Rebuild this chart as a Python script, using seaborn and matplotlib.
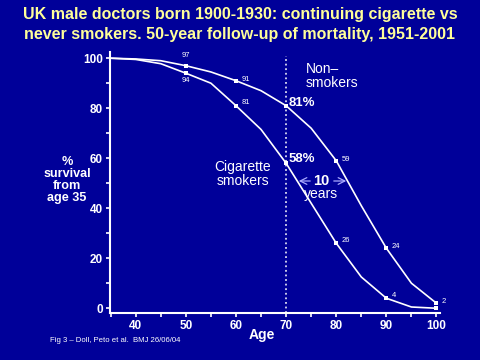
import matplotlib
matplotlib.use("Agg")
import matplotlib.pyplot as plt
import seaborn as sns
import pandas as pd

ages = [35, 40, 45, 50, 55, 60, 65, 70, 75, 80, 85, 90, 95, 100]
non_smokers = [100, 99.7, 99, 97, 94.5, 91, 87, 81, 72, 59, 41, 24, 10, 2]
smokers = [100, 99.5, 97.8, 94, 90, 81, 71.5, 58, 42, 26, 12.5, 4, 0.5, 0]
marker_ages = [50, 60, 70, 80, 90, 100]
ns_labels = {50: "97", 60: "91", 80: "59", 90: "24", 100: "2"}
sm_labels = {50: "94", 60: "81", 80: "26", 90: "4"}
xticks = [40, 50, 60, 70, 80, 90, 100]
yticks = [0, 20, 40, 60, 80, 100]

BG = "#000099"
W, H = 480, 360

sns.set_theme(style="white")
plt.rcParams['font.family'] = ['Liberation Sans', 'DejaVu Sans']

df = pd.DataFrame({
    "age": ages * 2,
    "survival": non_smokers + smokers,
    "group": ["Non-smokers"] * len(ages) + ["Cigarette smokers"] * len(ages),
})
dm = df[df["age"].isin(marker_ages)]

fig = plt.figure(figsize=(4.8, 3.6), dpi=100, facecolor=BG)
ax = fig.add_axes([110 / W, 1 - 313 / H, 330 / W, 261.3 / H])
ax.set_facecolor(BG)

sns.lineplot(data=df, x="age", y="survival", units="group", estimator=None,
             color="white", linewidth=1.2, ax=ax, legend=False)
sns.scatterplot(data=dm, x="age", y="survival", color="white", marker="s",
                s=10, edgecolor="white", linewidth=0, ax=ax, legend=False, zorder=5)

ax.vlines(70, -1.9, 101, colors="white", linestyles=(0, (1.2, 1.8)), linewidth=1.1)

ax.set_xlim(34.87, 100.7)
ax.set_ylim(-1.9, 102.6)
ax.set_xticks(xticks)
ax.set_xticks(list(range(35, 101, 5)), minor=True)
ax.set_yticks(yticks)
ax.set_yticks(list(range(10, 100, 20)), minor=True)
ax.set_xticklabels([str(t) for t in xticks], color="white", fontsize=8.5, fontweight="bold")
ax.set_yticklabels([str(t) for t in yticks], color="white", fontsize=8.5, fontweight="bold")
ax.tick_params(axis="both", which="both", colors="white", direction="out", length=3,
               width=1.2, pad=2, bottom=True, left=True)
for s in ["top", "right"]:
    ax.spines[s].set_visible(False)
for s in ["left", "bottom"]:
    ax.spines[s].set_color("white")
    ax.spines[s].set_linewidth(1.5)
ax.set_xlabel("")
ax.set_ylabel("")

# value labels
for a, lab in ns_labels.items():
    v = non_smokers[ages.index(a)]
    if a == 50:
        ax.annotate(lab, (a, v), xytext=(0, 5), textcoords="offset points",
                    ha="center", va="bottom", color="white", fontsize=5.5)
    else:
        ax.annotate(lab, (a, v), xytext=(4, 1), textcoords="offset points",
                    ha="left", va="center", color="white", fontsize=5.5)
for a, lab in sm_labels.items():
    v = smokers[ages.index(a)]
    if a == 50:
        ax.annotate(lab, (a, v), xytext=(0, -3), textcoords="offset points",
                    ha="center", va="top", color="white", fontsize=5.5)
    else:
        ax.annotate(lab, (a, v), xytext=(4, 2), textcoords="offset points",
                    ha="left", va="center", color="white", fontsize=5.5)

ax.annotate("81%", (70, non_smokers[ages.index(70)]), xytext=(2, 2), textcoords="offset points",
            ha="left", va="center", color="white", fontsize=9.5, fontweight="bold")
ax.annotate("58%", (70, smokers[ages.index(70)]), xytext=(2, 3), textcoords="offset points",
            ha="left", va="center", color="white", fontsize=9.5, fontweight="bold")

def ft(x, y, s, **kw):
    fig.text(x / W, 1 - y / H, s, **kw)

ft(240, 14, "UK male doctors born 1900-1930: continuing cigarette vs",
   ha="center", va="center", color="#FFFF99", fontsize=11.5, fontweight="bold")
ft(240, 34, "never smokers. 50-year follow-up of mortality, 1951-2001",
   ha="center", va="center", color="#FFFF99", fontsize=11.5, fontweight="bold")

ft(306, 76, "Non\u2013\nsmokers", ha="left", va="center", color="white",
   fontsize=10, linespacing=1.0)
ft(243, 174, "Cigarette\nsmokers", ha="center", va="center", color="white",
   fontsize=10, linespacing=1.0)
ft(321, 181, "10", ha="center", va="center", color="white", fontsize=10.5, fontweight="bold")
ft(321, 194, "years", ha="center", va="center", color="white", fontsize=10)
ax.annotate("", xy=(296 / W, 1 - 181 / H), xytext=(313 / W, 1 - 181 / H),
            xycoords="figure fraction", textcoords="figure fraction",
            arrowprops=dict(arrowstyle="->", color="#AAAAFF", lw=0.9))
ax.annotate("", xy=(349 / W, 1 - 181 / H), xytext=(331 / W, 1 - 181 / H),
            xycoords="figure fraction", textcoords="figure fraction",
            arrowprops=dict(arrowstyle="->", color="#AAAAFF", lw=0.9))

ft(67, 180, "%\nsurvival\nfrom\nage 35", ha="center", va="center", color="white",
   fontsize=9.1, fontweight="bold", linespacing=1.0)
ft(262, 335, "Age", ha="center", va="center", color="white", fontsize=10, fontweight="bold")
ft(50, 340, "Fig 3 \u2013 Doll, Peto et al.  BMJ 26/06/04", ha="left", va="center",
   color="white", fontsize=5.6)

fig.savefig("out.png", dpi=100, facecolor=BG)
